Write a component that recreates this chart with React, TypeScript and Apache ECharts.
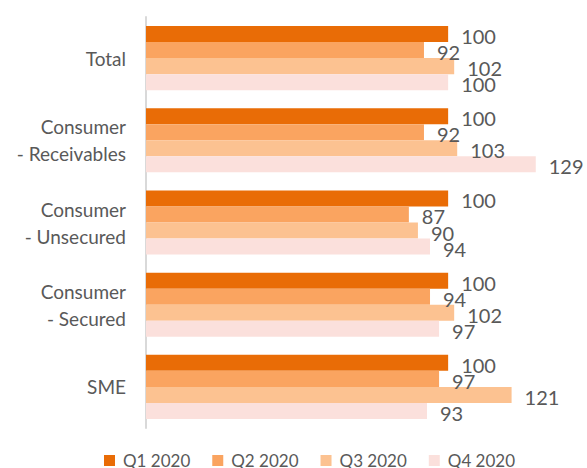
import React, { useEffect, useRef } from "react";
import * as echarts from "echarts";

const categories = ["Total", "Consumer\n- Receivables", "Consumer\n- Unsecured", "Consumer\n- Secured", "SME"];
const seriesNames = ["Q1 2020", "Q2 2020", "Q3 2020", "Q4 2020"];
const q1 = [100, 100, 100, 100, 100];
const q2 = [92, 92, 87, 94, 97];
const q3 = [102, 103, 90, 102, 121];
const q4 = [100, 129, 94, 97, 93];
const colors = ["#E96C06", "#FAA460", "#FCC291", "#FBE0DC"];

const FONT = "Lato";
const TEXT = "#595959";

export default function App() {
  const ref = useRef<HTMLDivElement>(null);
  useEffect(() => {
    document.body.style.margin = "0";
    if (!ref.current) return;
    const chart = echarts.init(ref.current, undefined, { renderer: "svg" });
    const data = [q1, q2, q3, q4];
    chart.setOption({
      animation: false,
      color: colors,
      grid: { left: 146, right: 18, top: 17, bottom: 40, containLabel: false },
      legend: {
        data: seriesNames,
        top: 452,
        left: 104,
        padding: 0,
        itemWidth: 11,
        itemHeight: 11,
        itemGap: 22,
        icon: "rect",
        textStyle: { fontFamily: FONT, fontSize: 17, lineHeight: 14, color: TEXT, padding: [0, 0, 0, 3] },
      },
      xAxis: {
        type: "value",
        min: 0,
        max: 140,
        show: false,
      },
      yAxis: {
        type: "category",
        data: categories,
        inverse: true,
        axisLine: { show: true, lineStyle: { color: "#D9D9D9", width: 2 } },
        axisTick: { show: false },
        axisLabel: {
          fontFamily: FONT,
          fontSize: 19,
          color: TEXT,
          margin: 20,
          lineHeight: 27,
          align: "right",
        },
      },
      series: data.map((d, i) => ({
        name: seriesNames[i],
        type: "bar",
        data: d,
        barGap: "0%",
        barCategoryGap: "22%",
        label: {
          show: true,
          position: "right",
          distance: 13,
          offset: [0, 2],
          fontFamily: FONT,
          fontSize: 20,
          color: TEXT,
        },
      })),
    });
    return () => chart.dispose();
  }, []);
  return <div ref={ref} style={{ width: 587, height: 468 }} />;
}
